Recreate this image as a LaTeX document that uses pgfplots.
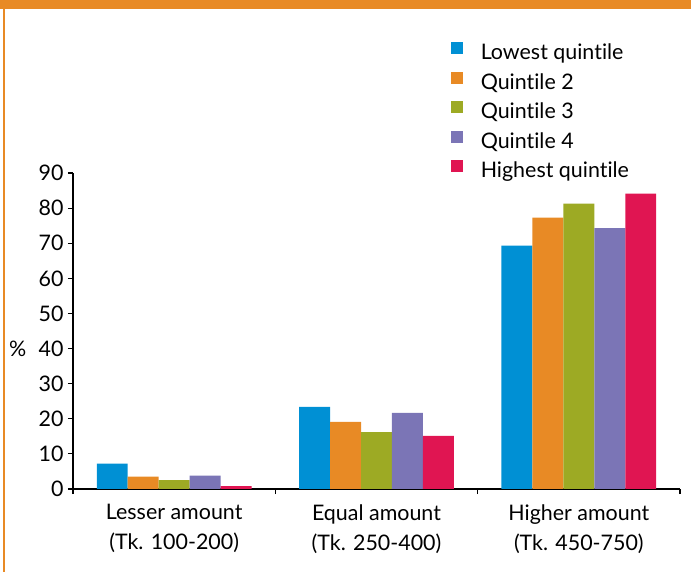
\documentclass[border=0pt]{standalone}
\usepackage{pgfplots}
\pgfplotsset{compat=1.18}
\usepackage{fontspec}
\setmainfont{Lato}[Ligatures=NoCommon]
\definecolor{cBlue}{HTML}{0090D4}
\definecolor{cOrange}{HTML}{E88A25}
\definecolor{cGreen}{HTML}{9DAA24}
\definecolor{cPurple}{HTML}{7B75B6}
\definecolor{cRed}{HTML}{E01552}
\definecolor{frameOrange}{HTML}{E88A25}
\begin{document}
\begin{tikzpicture}
\useasboundingbox (0,0) rectangle (691bp,572bp);
\fill[frameOrange] (0,563bp) rectangle (691bp,572bp);
\fill[frameOrange] (2.5bp,0) rectangle (4.5bp,563bp);
\begin{axis}[
  at={(73bp,83bp)}, anchor=south west,
  scale only axis, width=607bp, height=316bp,
  font=\fontsize{21.5}{30}\selectfont,
  ybar=0pt, bar width=0.153,
  xmin=-0.5, xmax=2.5, ymin=0, ymax=90,
  ytick={0,10,...,90},
  xtick={0,1,2},
  xticklabels={{Lesser amount\\(Tk. 100-200)},{Equal amount\\(Tk. 250-400)},{Higher amount\\(Tk. 450-750)}},
  xticklabel style={align=center, yshift=-7bp},
  minor xtick={-0.5,0.5,1.5,2.5},
  major x tick style={draw=none},
  tick align=outside,
  major tick length=5bp, minor tick length=5bp,
  tick style={black, line width=1.2bp},
  axis lines*=left,
  axis line style={line width=1.6bp},
  /pgf/number format/assume math mode=true,
  yticklabel style={xshift=-1bp},
  ylabel={\%},
  every axis y label/.style={at={(axis description cs:-0.071,0.444)}, anchor=east},
  legend style={at={(axis description cs:0.622,1.414)}, anchor=north west, draw=none, fill=none, inner sep=0pt,
    row sep=8bp, nodes={inner sep=0pt, text height=13bp, text depth=4bp},
    /tikz/every odd column/.append style={column sep=18bp}},
  legend cell align=left,
  legend image code/.code={\fill[#1] (0bp,1bp) rectangle (12bp,13bp);},
]
\addplot[fill=cBlue, draw=none] coordinates {(0,7.2) (1,23.4) (2,69.3)};
\addplot[fill=cOrange, draw=none] coordinates {(0,3.5) (1,19.1) (2,77.3)};
\addplot[fill=cGreen, draw=none] coordinates {(0,2.5) (1,16.2) (2,81.3)};
\addplot[fill=cPurple, draw=none] coordinates {(0,3.8) (1,21.7) (2,74.3)};
\addplot[fill=cRed, draw=none] coordinates {(0,0.8) (1,15.1) (2,84.1)};
\legend{Lowest quintile, Quintile 2, Quintile 3, Quintile 4, Highest quintile}
\end{axis}
\end{tikzpicture}
\end{document}
